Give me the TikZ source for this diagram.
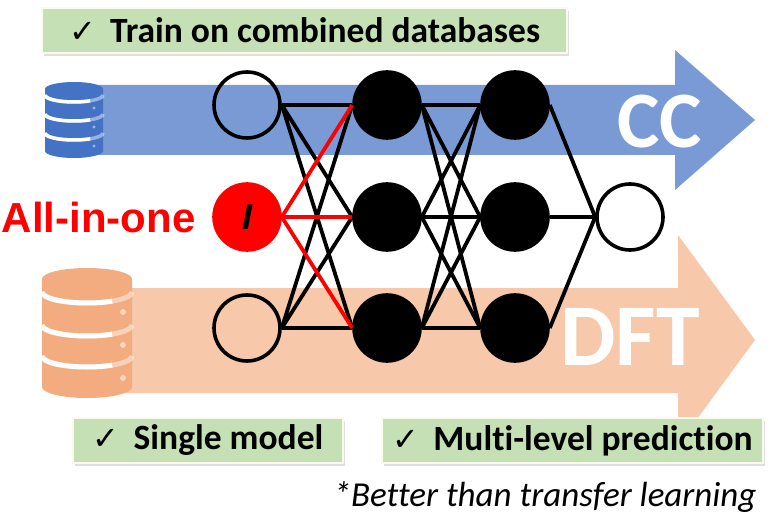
\documentclass[tikz,border=0pt]{standalone}
\usepackage{fontspec}
\setmainfont{Carlito}[Ligatures=NoCommon]
\newfontfamily\arialfont{Liberation Sans}
\newfontfamily\tickfont{DejaVu Sans}
\usepackage{tikz}
\usetikzlibrary{shadows}
\definecolor{ccblue}{RGB}{122,154,214}
\definecolor{dbblue}{RGB}{68,114,196}
\definecolor{dftorange}{RGB}{247,200,170}
\definecolor{dborange}{RGB}{242,172,128}
\definecolor{boxgreen}{RGB}{197,224,180}
\definecolor{boxrim}{RGB}{252,250,236}
\definecolor{allred}{RGB}{255,0,0}
\newcommand{\tick}{{\tickfont\mdseries\fontsize{32}{32}\selectfont ✓}\hspace{0.4em}}

\begin{document}
\begin{tikzpicture}[x=1pt, y=-1pt,
  neuron/.style={circle, draw=black, line width=3.6pt, minimum size=66pt, inner sep=0pt},
  hidden/.style={neuron, fill=black},
  link/.style={black, line width=3.8pt},
  redlink/.style={allred, line width=3.8pt},
  notebox/.style={fill=boxgreen, draw=boxrim, line width=1.5pt, minimum height=45pt, inner sep=0pt,
    drop shadow={opacity=0.25, shadow xshift=2pt, shadow yshift=-3pt},
    font=\fontsize{35.5}{40}\selectfont\bfseries}]

\useasboundingbox (0,0) rectangle (778,521);

% arrows
\fill[ccblue] (90,85)--(675,85)--(675,50)--(755,120)--(675,190)--(675,155)--(90,155)--cycle;
\fill[dftorange] (120,288)--(678,288)--(678,235)--(755,340)--(678,445)--(678,393)--(120,393)--cycle;

% databases
\fill[dbblue] (45,89)--(45,151) arc[start angle=180, end angle=0, x radius=29, y radius=7]
  --(103,89) arc[start angle=0, end angle=-180, x radius=29, y radius=7]--cycle;
\draw[white, opacity=0.45, line width=3.5pt] (45,95) arc[start angle=180, end angle=0, x radius=29, y radius=7];
\draw[white, opacity=0.45, line width=3.5pt] (45,114) arc[start angle=180, end angle=0, x radius=29, y radius=7];
\draw[white, opacity=0.45, line width=3.5pt] (45,133) arc[start angle=180, end angle=0, x radius=29, y radius=7];
\draw[white, line width=3.5pt] (45,95) arc[start angle=180, end angle=56, x radius=29, y radius=7];
\draw[white, line width=3.5pt] (45,114) arc[start angle=180, end angle=56, x radius=29, y radius=7];
\draw[white, line width=3.5pt] (45,133) arc[start angle=180, end angle=56, x radius=29, y radius=7];
\fill[white, opacity=0.5] (94,108) circle (1.6) (94,127) circle (1.6) (94,146) circle (1.6);

\fill[dborange] (42,279)--(42,387) arc[start angle=180, end angle=0, x radius=45, y radius=11]
  --(132,279) arc[start angle=0, end angle=-180, x radius=45, y radius=11]--cycle;
\draw[white, opacity=0.45, line width=5pt] (42,292) arc[start angle=180, end angle=0, x radius=45, y radius=11];
\draw[white, opacity=0.45, line width=5pt] (42,325) arc[start angle=180, end angle=0, x radius=45, y radius=11];
\draw[white, opacity=0.45, line width=5pt] (42,356) arc[start angle=180, end angle=0, x radius=45, y radius=11];
\draw[white, line width=5pt] (42,292) arc[start angle=180, end angle=56, x radius=45, y radius=11];
\draw[white, line width=5pt] (42,325) arc[start angle=180, end angle=56, x radius=45, y radius=11];
\draw[white, line width=5pt] (42,356) arc[start angle=180, end angle=56, x radius=45, y radius=11];
\fill[white, opacity=0.5] (123,312) circle (3) (123,345) circle (3) (123,378) circle (3);

% network
\node[neuron] (in1) at (247,105) {};
\node[neuron, draw=allred, fill=allred] (in2) at (247,217) {\arialfont\bfseries\itshape\fontsize{36}{36}\selectfont I};
\node[neuron] (in3) at (247,328) {};

\node[hidden] (a1) at (387,105) {};
\node[hidden] (a2) at (387,217) {};
\node[hidden] (a3) at (387,328) {};

\node[hidden] (b1) at (515,105) {};
\node[hidden] (b2) at (515,217) {};
\node[hidden] (b3) at (515,328) {};

\node[neuron] (out) at (630,217) {};

\draw[link] (in1.east)--(a1.west) (in1.east)--(a2.west) (in1.east)--(a3.west);
\draw[link] (in3.east)--(a1.west) (in3.east)--(a2.west) (in3.east)--(a3.west);

\draw[link] (a1.east)--(b1.west) (a1.east)--(b2.west) (a1.east)--(b3.west);
\draw[link] (a2.east)--(b1.west) (a2.east)--(b2.west) (a2.east)--(b3.west);
\draw[link] (a3.east)--(b1.west) (a3.east)--(b2.west) (a3.east)--(b3.west);

\draw[link] (b1.east)--(out.west) (b2.east)--(out.west) (b3.east)--(out.west);

\draw[redlink] (in2.east)--(a1.west) (in2.east)--(a2.west) (in2.east)--(a3.west);

% labels
\node[anchor=east, text=allred, font=\arialfont\bfseries\fontsize{42}{42}\selectfont] (allinone) at (199,217) {All-in-one};
\node[text=white, font=\bfseries\fontsize{80}{80}\selectfont] (cc) at (660,122) {CC};
\node[text=white, font=\bfseries\fontsize{88}{88}\selectfont] (dft) at (630,337) {DFT};

\node[notebox, minimum width=525pt] (train) at (304.5,30.5) {\tick Train on combined databases};
\node[notebox, minimum width=270pt] (single) at (208,440.5) {\tick Single model};
\node[notebox, minimum width=381pt] (multi) at (572.5,440.5) {\tick Multi-level prediction};

\node[anchor=east, font=\itshape\fontsize{35}{40}\selectfont] (better) at (760,497) {*Better than transfer learning};

\end{tikzpicture}
\end{document}
